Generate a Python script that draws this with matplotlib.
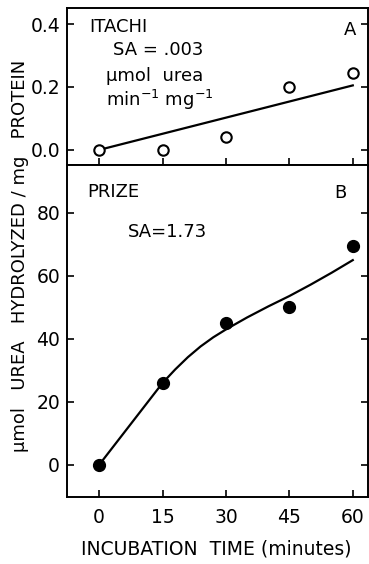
import matplotlib
matplotlib.use("Agg")
import matplotlib.pyplot as plt

plt.rcParams["font.family"] = ["DejaVu Sans"]

# incubation time (minutes)
time_min = [0, 15, 30, 45, 60]
xticks = [0, 15, 30, 45, 60]

# panel A: ITACHI
itachi_y = [0.0, 0.0, 0.04, 0.20, 0.245]
itachi_fit_x = [0, 60]
itachi_fit_y = [0.0, 0.205]

# panel B: PRIZE
prize_y = [0.0, 26.0, 45.0, 50.0, 69.5]
prize_fit_x = [0, 15, 18, 21, 24, 27, 30, 35, 40, 45, 50, 55, 60]
prize_fit_y = [0.0, 26.0, 30.3, 34.2, 37.6, 40.5, 43.0, 46.8, 50.3, 53.6, 57.2, 61.0, 65.0]

a_ticks = [0.0, 0.2, 0.4]
a_ticklabels = ["0.0", "0.2", "0.4"]
b_ticks = [0, 20, 40, 60, 80]

W, H = 369, 564
fig = plt.figure(figsize=(W / 100, H / 100), dpi=100)


def fx(px):
    return px / W


def fy(py):
    return 1 - py / H


left, right = fx(67), fx(368)
ax_a = fig.add_axes([left, fy(165), right - left, (165 - 8) / H])
ax_b = fig.add_axes([left, fy(497), right - left, (497 - 165) / H])

lw = 1.6
for ax in (ax_a, ax_b):
    for s in ax.spines.values():
        s.set_linewidth(1.4)
    ax.set_xlim(-7.6, 63.6)
    ax.set_xticks(xticks)
    ax.tick_params(direction="in", length=5, width=1.2, labelsize=13.5,
                   left=True, right=True, bottom=True, top=False)
    ax.tick_params(axis="y", pad=5)
    ax.tick_params(axis="x", pad=8)

# panel A
ax_a.plot(itachi_fit_x, itachi_fit_y, color="black", lw=lw)
ax_a.plot(time_min, itachi_y, "o", ms=7.5, mfc="white", mec="black", mew=1.5)
ax_a.set_ylim(-0.048, 0.451)
ax_a.set_yticks(a_ticks)
ax_a.set_yticklabels(a_ticklabels)
ax_a.tick_params(labelbottom=False)

# panel B
ax_b.plot(prize_fit_x, prize_fit_y, color="black", lw=lw)
ax_b.plot(time_min, prize_y, "o", ms=8.5, color="black")
ax_b.set_ylim(-10.2, 95.2)
ax_b.set_yticks(b_ticks)

txt = dict(ha="left", va="center", fontsize=13)
fig.text(fx(89), fy(27), "ITACHI", **txt)
fig.text(fx(113), fy(50), "SA = .003", **txt)
fig.text(fx(106), fy(76), "µmol  urea", **txt)
fig.text(fx(106), fy(100), "min$^{-1}$ mg$^{-1}$", **txt)
fig.text(fx(350), fy(30), "A", ha="center", va="center", fontsize=13)
fig.text(fx(87), fy(192), "PRIZE", **txt)
fig.text(fx(128), fy(232), "SA=1.73", **txt)
fig.text(fx(340), fy(193), "B", ha="center", va="center", fontsize=13)

fig.text(fx(20), fy(256), "µmol   UREA   HYDROLYZED / mg   PROTEIN",
         rotation=90, ha="center", va="center", fontsize=13)
fig.text(fx(216), fy(549), "INCUBATION  TIME (minutes)",
         ha="center", va="center", fontsize=13.5)

fig.savefig("out.png", dpi=100)
